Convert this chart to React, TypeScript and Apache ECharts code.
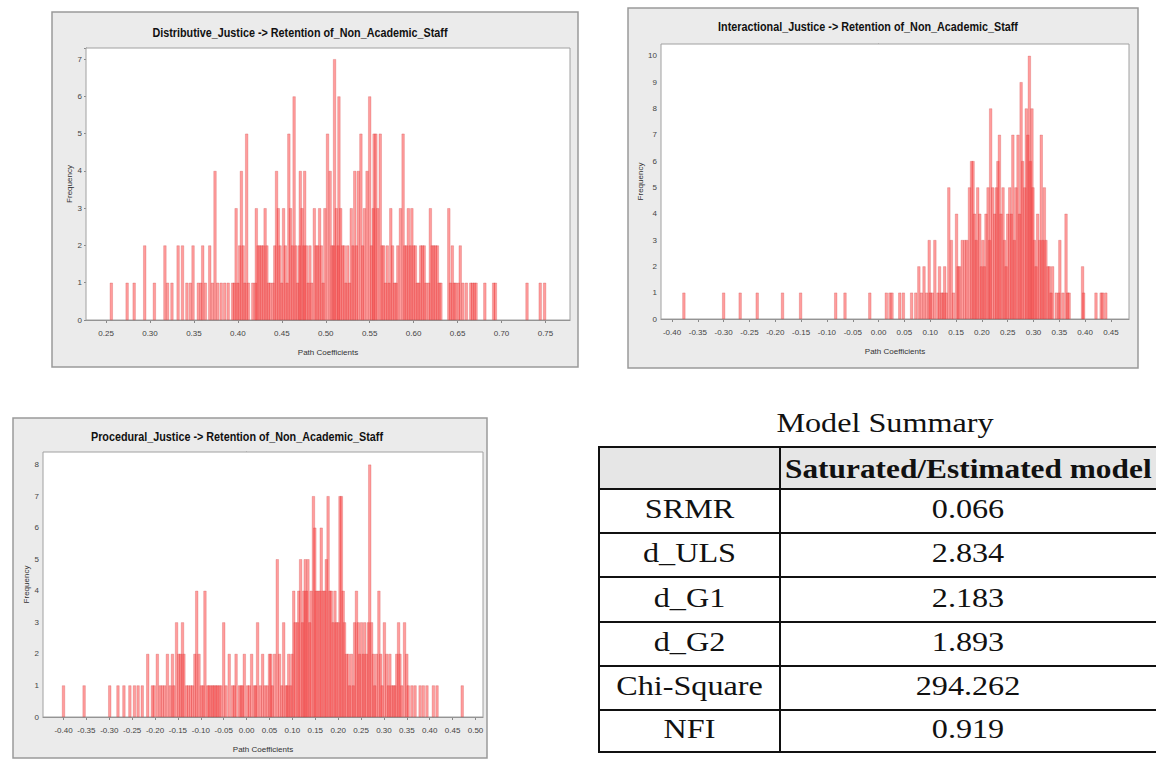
import React, { useEffect, useRef } from "react";
import * as echarts from "echarts";

const distTicks = [0.25, 0.3, 0.35, 0.4, 0.45, 0.5, 0.55, 0.6, 0.65, 0.7, 0.75];
const interTicks = [-0.4, -0.35, -0.3, -0.25, -0.2, -0.15, -0.1, -0.05, 0, 0.05, 0.1, 0.15, 0.2, 0.25, 0.3, 0.35, 0.4, 0.45];
const procTicks = [-0.4, -0.35, -0.3, -0.25, -0.2, -0.15, -0.1, -0.05, 0, 0.05, 0.1, 0.15, 0.2, 0.25, 0.3, 0.35, 0.4, 0.45, 0.5];

// [path coefficient, frequency]
const distData = [
  [0.256, 1], [0.274, 1], [0.282, 1], [0.294, 2], [0.305, 1], [0.317, 2], [0.320, 1], [0.325, 1], [0.332, 2], [0.337, 2],
  [0.342, 1], [0.346, 1], [0.349, 2], [0.355, 1], [0.358, 1], [0.360, 2], [0.363, 1], [0.368, 2], [0.371, 1], [0.374, 4],
  [0.377, 1], [0.381, 1], [0.385, 1], [0.389, 1], [0.394, 1], [0.396, 1], [0.398, 3], [0.400, 1], [0.402, 2], [0.404, 4],
  [0.406, 2], [0.408, 1], [0.410, 5], [0.412, 1], [0.417, 1], [0.420, 1], [0.421, 3], [0.423, 2], [0.425, 2], [0.427, 2],
  [0.429, 2], [0.431, 3], [0.433, 2], [0.435, 1], [0.437, 1], [0.440, 1], [0.442, 2], [0.444, 4], [0.446, 3], [0.448, 2],
  [0.450, 1], [0.452, 3], [0.454, 2], [0.456, 1], [0.458, 5], [0.460, 3], [0.462, 2], [0.464, 6], [0.466, 2], [0.468, 1],
  [0.470, 2], [0.471, 4], [0.473, 3], [0.475, 2], [0.476, 4], [0.478, 2], [0.480, 1], [0.482, 2], [0.484, 1], [0.487, 3],
  [0.489, 2], [0.491, 2], [0.493, 3], [0.495, 2], [0.497, 1], [0.499, 3], [0.502, 5], [0.505, 4], [0.507, 2], [0.509, 2],
  [0.510, 7], [0.512, 3], [0.514, 2], [0.515, 6], [0.517, 3], [0.519, 2], [0.521, 2], [0.523, 1], [0.525, 2], [0.527, 1],
  [0.529, 3], [0.531, 2], [0.533, 4], [0.535, 2], [0.537, 4], [0.540, 5], [0.542, 2], [0.544, 3], [0.547, 4], [0.550, 6],
  [0.552, 2], [0.554, 3], [0.555, 5], [0.557, 5], [0.559, 3], [0.562, 5], [0.564, 2], [0.566, 2], [0.568, 1], [0.570, 2],
  [0.572, 1], [0.574, 3], [0.576, 2], [0.578, 1], [0.580, 1], [0.582, 2], [0.585, 3], [0.588, 5], [0.590, 2], [0.592, 2],
  [0.594, 3], [0.596, 2], [0.598, 3], [0.600, 2], [0.602, 2], [0.604, 1], [0.606, 1], [0.608, 2], [0.610, 2], [0.612, 2],
  [0.614, 1], [0.617, 1], [0.619, 3], [0.621, 2], [0.623, 2], [0.625, 2], [0.627, 2], [0.629, 1], [0.631, 1], [0.640, 3],
  [0.642, 1], [0.644, 2], [0.646, 1], [0.648, 1], [0.651, 1], [0.653, 2], [0.656, 1], [0.660, 1], [0.665, 1], [0.667, 1],
  [0.669, 1], [0.671, 1], [0.681, 1], [0.691, 1], [0.693, 1], [0.729, 1], [0.744, 1], [0.749, 1],
];

const interData = [
  [-0.377, 1], [-0.300, 1], [-0.268, 1], [-0.235, 1], [-0.186, 1], [-0.151, 1], [-0.083, 1], [-0.065, 1], [-0.017, 1], [0.015, 1],
  [0.022, 1], [0.026, 1], [0.041, 1], [0.048, 1], [0.064, 1], [0.072, 1], [0.078, 2], [0.083, 1], [0.088, 2], [0.093, 1],
  [0.098, 3], [0.100, 1], [0.104, 1], [0.109, 3], [0.115, 1], [0.118, 2], [0.122, 1], [0.125, 1], [0.128, 2], [0.131, 1],
  [0.136, 5], [0.141, 3], [0.145, 1], [0.151, 4], [0.154, 2], [0.157, 2], [0.162, 3], [0.167, 3], [0.171, 3], [0.176, 5],
  [0.180, 6], [0.183, 6], [0.186, 4], [0.189, 3], [0.192, 5], [0.196, 4], [0.199, 2], [0.202, 3], [0.205, 2], [0.208, 4],
  [0.212, 5], [0.215, 3], [0.217, 8], [0.221, 5], [0.225, 4], [0.228, 5], [0.231, 6], [0.234, 7], [0.237, 4], [0.241, 5],
  [0.244, 3], [0.247, 2], [0.250, 4], [0.254, 5], [0.257, 4], [0.260, 7], [0.263, 3], [0.266, 5], [0.270, 7], [0.273, 4],
  [0.276, 9], [0.279, 6], [0.283, 5], [0.286, 8], [0.289, 7], [0.292, 10], [0.294, 6], [0.297, 8], [0.299, 5], [0.302, 3],
  [0.305, 2], [0.308, 4], [0.312, 3], [0.315, 7], [0.318, 3], [0.321, 5], [0.324, 3], [0.328, 2], [0.331, 2], [0.334, 1],
  [0.337, 2], [0.344, 1], [0.349, 1], [0.351, 3], [0.357, 1], [0.363, 4], [0.366, 1], [0.369, 1], [0.395, 2], [0.397, 1],
  [0.421, 1], [0.431, 1], [0.434, 1], [0.440, 1],
];

const procData = [
  [-0.400, 1], [-0.355, 1], [-0.299, 1], [-0.281, 1], [-0.268, 1], [-0.255, 1], [-0.245, 1], [-0.237, 1], [-0.228, 1], [-0.216, 2],
  [-0.206, 1], [-0.202, 1], [-0.195, 2], [-0.189, 1], [-0.184, 1], [-0.179, 1], [-0.173, 2], [-0.167, 1], [-0.162, 2], [-0.159, 1],
  [-0.153, 3], [-0.148, 2], [-0.144, 2], [-0.140, 3], [-0.137, 2], [-0.131, 1], [-0.127, 1], [-0.122, 1], [-0.118, 1], [-0.113, 2],
  [-0.109, 4], [-0.104, 2], [-0.099, 1], [-0.095, 1], [-0.091, 4], [-0.085, 1], [-0.082, 1], [-0.078, 1], [-0.074, 1], [-0.071, 1],
  [-0.067, 1], [-0.064, 1], [-0.060, 1], [-0.056, 1], [-0.050, 3], [-0.045, 1], [-0.038, 2], [-0.031, 1], [-0.027, 1], [-0.023, 2],
  [-0.016, 1], [-0.012, 1], [-0.009, 1], [-0.005, 2], [0.002, 1], [0.006, 1], [0.011, 2], [0.017, 1], [0.020, 1], [0.024, 3],
  [0.030, 1], [0.035, 2], [0.040, 1], [0.045, 1], [0.050, 2], [0.053, 2], [0.056, 1], [0.061, 2], [0.067, 5], [0.072, 2],
  [0.077, 1], [0.081, 3], [0.086, 1], [0.089, 1], [0.092, 2], [0.096, 1], [0.099, 2], [0.103, 4], [0.106, 3], [0.111, 3],
  [0.114, 4], [0.118, 5], [0.122, 3], [0.125, 4], [0.128, 5], [0.131, 4], [0.134, 5], [0.138, 3], [0.141, 4], [0.146, 7],
  [0.149, 6], [0.152, 4], [0.156, 4], [0.160, 4], [0.163, 6], [0.167, 4], [0.171, 4], [0.174, 5], [0.178, 7], [0.182, 4],
  [0.185, 4], [0.189, 3], [0.193, 4], [0.196, 3], [0.200, 3], [0.204, 7], [0.207, 7], [0.211, 4], [0.214, 3], [0.218, 2],
  [0.222, 2], [0.225, 1], [0.229, 2], [0.233, 1], [0.236, 3], [0.240, 4], [0.244, 3], [0.247, 2], [0.251, 3], [0.255, 2],
  [0.258, 3], [0.262, 2], [0.266, 3], [0.269, 8], [0.273, 3], [0.277, 2], [0.280, 1], [0.284, 2], [0.289, 4], [0.293, 2],
  [0.296, 1], [0.301, 3], [0.306, 2], [0.310, 1], [0.313, 2], [0.317, 1], [0.321, 1], [0.324, 1], [0.328, 2], [0.332, 3],
  [0.335, 2], [0.339, 1], [0.345, 3], [0.350, 2], [0.353, 1], [0.361, 1], [0.368, 1], [0.379, 1], [0.386, 1], [0.394, 1],
  [0.408, 1], [0.416, 1], [0.471, 1],
];

const chartTitles = [
  "Distributive_Justice -> Retention of_Non_Academic_Staff",
  "Interactional_Justice -> Retention of_Non_Academic_Staff",
  "Procedural_Justice -> Retention of_Non_Academic_Staff",
];

const summaryTitle = "Model Summary";
const summaryHeader = "Saturated/Estimated model";
const summaryMeasures = ["SRMR", "d_ULS", "d_G1", "d_G2", "Chi-Square", "NFI"];
const summaryValues = ["0.066", "2.834", "2.183", "1.893", "294.262", "0.919"];

export default function App() {
  const ref = useRef<HTMLDivElement>(null);

  useEffect(() => {
    const chart = echarts.init(ref.current!, null, { renderer: "svg" });

    const panels = [
      { data: distData, ticks: distTicks, min: 0.2272, max: 0.7779, ymax: 7.3,
        grid: { left: 86, top: 48, width: 484, height: 272 }, frame: [52, 12, 526, 355], tpos: [300, 33] },
      { data: interData, ticks: interTicks, min: -0.4213, max: 0.4849, ymax: 10.45,
        grid: { left: 661, top: 44, width: 468, height: 275 }, frame: [628, 8, 510, 360], tpos: [868, 27] },
      { data: procData, ticks: procTicks, min: -0.4448, max: 0.5164, ymax: 8.4,
        grid: { left: 43, top: 452, width: 440, height: 265 }, frame: [13, 418, 474, 340], tpos: [237, 437] },
    ];
    const titleScale = [0.83, 0.83, 0.83];

    const labelFont = "'Liberation Sans', Arial, sans-serif";
    const serif = "'Liberation Serif', 'Times New Roman', serif";

    const centered = { align: "center", verticalAlign: "middle", textAlign: "center", textVerticalAlign: "middle" };

    const graphics: any[] = [];
    panels.forEach((p, i) => {
      graphics.push({
        type: "rect", z: -10,
        shape: { x: p.frame[0], y: p.frame[1], width: p.frame[2], height: p.frame[3] },
        style: { fill: "#ebebeb", stroke: "#9a9a9a", lineWidth: 1.5 },
      });
      graphics.push({
        type: "text", z: 10, x: p.tpos[0], y: p.tpos[1], scaleX: titleScale[i],
        style: { text: chartTitles[i], fill: "#111", font: `bold 13px ${labelFont}`, ...centered },
      });
    });

    // table
    const colX = [599, 780, 1158];
    const rowY = [447, 489, 533, 577, 622, 666, 710, 752];
    const stretch = 1.15;
    graphics.push({
      type: "text", x: 885, y: 423, scaleX: stretch,
      style: { text: summaryTitle, fill: "#111", font: `28px ${serif}`, ...centered },
    });
    for (let r = 0; r < rowY.length - 1; r++) {
      for (let c = 0; c < 2; c++) {
        graphics.push({
          type: "rect",
          shape: { x: colX[c], y: rowY[r], width: colX[c + 1] - colX[c], height: rowY[r + 1] - rowY[r] },
          style: { fill: r === 0 ? "#e6e6e6" : "#ffffff", stroke: "#111", lineWidth: 2 },
        });
      }
    }
    graphics.push({
      type: "text", x: 785, y: (rowY[0] + rowY[1]) / 2 + 1, scaleX: 1.12,
      style: { text: summaryHeader, fill: "#111", font: `bold 28px ${serif}`,
        align: "left", verticalAlign: "middle", textAlign: "left", textVerticalAlign: "middle" },
    });
    summaryMeasures.forEach((m, i) => {
      const cy = (rowY[i + 1] + rowY[i + 2]) / 2 - 2;
      graphics.push({
        type: "text", x: (colX[0] + colX[1]) / 2, y: cy, scaleX: stretch,
        style: { text: m, fill: "#111", font: `28px ${serif}`, ...centered },
      });
      graphics.push({
        type: "text", x: 968, y: cy, scaleX: stretch,
        style: { text: summaryValues[i], fill: "#111", font: `28px ${serif}`, ...centered },
      });
    });

    const option: any = {
      animation: false,
      backgroundColor: "#ffffff",
      graphic: { elements: graphics },
      grid: panels.map((p) => ({
        ...p.grid, show: true, backgroundColor: "#ffffff", borderColor: "#a0a0a0", borderWidth: 1, z: 1,
      })),
      xAxis: panels.map((p, i) => ({
        type: "value", gridIndex: i, min: p.min, max: p.max,
        name: "Path Coefficients", nameLocation: "middle", nameGap: 28,
        nameTextStyle: { fontSize: 8, color: "#333", fontFamily: labelFont },
        axisLine: { show: true, onZero: false, lineStyle: { color: "#888", width: 1 } },
        axisTick: { show: true, customValues: p.ticks, length: 3, lineStyle: { color: "#888" } },
        axisLabel: { customValues: p.ticks, fontSize: 8, color: "#444", margin: 9, fontFamily: labelFont,
          formatter: (v: number) => v.toFixed(2) },
        splitLine: { show: true, lineStyle: { color: "#e8e8e8", width: 1 } },
      })),
      yAxis: panels.map((p, i) => ({
        type: "value", gridIndex: i, min: 0, max: p.ymax, interval: 1,
        name: "Frequency", nameLocation: "middle", nameGap: 11, nameRotate: 90,
        nameTextStyle: { fontSize: 8, color: "#333", fontFamily: labelFont },
        axisLine: { show: true, lineStyle: { color: "#888" } },
        axisTick: { show: true, length: 2, lineStyle: { color: "#888" } },
        axisLabel: { fontSize: 8, color: "#444", margin: 4, fontFamily: labelFont,
          formatter: (v: number) => (Number.isInteger(v) ? String(v) : "") },
        splitLine: { show: true, lineStyle: { color: "#e8e8e8", width: 1 } },
      })),
      series: panels.map((p, i) => ({
        type: "bar", xAxisIndex: i, yAxisIndex: i, data: p.data, barWidth: 3,
        itemStyle: { color: "rgba(255,60,60,0.5)", borderColor: "rgba(205,55,55,0.5)", borderWidth: 0.5 },
        silent: true, z: 3,
      })),
    };

    chart.setOption(option);
    return () => chart.dispose();
  }, []);

  return (
    <div
      ref={ref}
      style={{ position: "absolute", left: 0, top: 0, width: 1156, height: 760, background: "#fff" }}
    />
  );
}
